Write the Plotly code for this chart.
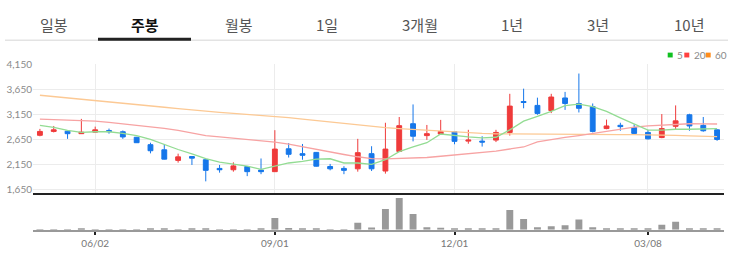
import plotly.graph_objects as go

# ---------------- data ----------------
weeks = list(range(50))
opens = [2733, 2810, 2815, 2765, 2796, 2829, 2804, 2694, 2546, 2444,
         2233, 2310, 2246, 2073, 2046, 2111, 2040, 2008, 2464, 2367,
         2392, 2111, 2073, 2065, 2367, 2021, 2412, 2964, 2727, 2758,
         2804, 2617, 2617, 2637, 2790, 3406, 3329, 3227, 3477, 3367,
         3304, 2867, 2932, 2887, 2790, 2688, 2912, 3142, 2931, 2842]
highs = [2861, 2919, 2829, 3060, 2906, 2867, 2829, 2700, 2585, 2560,
         2367, 2310, 2252, 2142, 2194, 2111, 2271, 2835, 2579, 2560,
         2400, 2162, 2117, 2662, 2515, 2983, 3098, 3348, 2939, 3040,
         2810, 2842, 2714, 2842, 3560, 3662, 3483, 3560, 3598, 3964,
         3367, 3046, 2983, 2950, 2842, 3156, 3329, 3162, 3098, 2850]
lows = [2713, 2790, 2662, 2765, 2790, 2765, 2662, 2580, 2373, 2252,
        2188, 2142, 1815, 1988, 2008, 1919, 1958, 2008, 2290, 2246,
        2110, 2034, 1958, 2008, 2021, 1969, 2412, 2612, 2642, 2746,
        2554, 2565, 2508, 2598, 2727, 3271, 3142, 3175, 3239, 3188,
        2790, 2854, 2823, 2739, 2650, 2675, 2842, 2823, 2804, 2623]
closes = [2810, 2842, 2765, 2796, 2842, 2804, 2700, 2585, 2425, 2258,
          2303, 2277, 2034, 2046, 2123, 2008, 2008, 2458, 2354, 2335,
          2117, 2065, 2034, 2387, 2065, 2458, 2925, 2714, 2765, 2810,
          2612, 2637, 2598, 2790, 3315, 3387, 3169, 3496, 3367, 3271,
          2810, 2919, 2906, 2771, 2662, 2867, 3021, 2919, 2823, 2650]
ma5 = [2931, 2893, 2829, 2790, 2804, 2804, 2771, 2727, 2650, 2546,
       2450, 2362, 2270, 2200, 2162, 2117, 2054, 2117, 2181, 2213,
       2258, 2265, 2181, 2181, 2155, 2246, 2406, 2502, 2585, 2758,
       2727, 2700, 2681, 2694, 2842, 3015, 3112, 3208, 3323, 3354,
       3304, 3208, 3079, 2950, 2835, 2835, 2854, 2854, 2867, 2867]
ma20 = [3054, 3045, 3035, 3025, 3015, 2990, 2960, 2935, 2906, 2870,
        2830, 2785, 2725, 2700, 2675, 2650, 2625, 2598, 2555, 2500,
        2450, 2400, 2350, 2305, 2270, 2265, 2270, 2280, 2290, 2315,
        2342, 2365, 2390, 2419, 2460, 2500, 2600, 2650, 2690, 2727,
        2770, 2820, 2867, 2895, 2919, 2935, 2950, 2963, 2960, 2958]
ma60 = [3531, 3506, 3481, 3456, 3431, 3403, 3375, 3347, 3320, 3292,
        3264, 3236, 3210, 3190, 3170, 3150, 3130, 3112, 3085, 3055,
        3025, 2995, 2965, 2935, 2905, 2885, 2867, 2850, 2830, 2810,
        2790, 2780, 2770, 2761, 2758, 2755, 2753, 2752, 2751, 2750,
        2750, 2749, 2748, 2747, 2746, 2740, 2730, 2722, 2715, 2708]
volumes = [0.3, 0.3, 0.3, 1.5, 0.3, 0.3, 0.3, 0.3, 1.0, 1.0,
           0.3, 1.0, 1.0, 0.3, 0.3, 0.3, 1.5, 12.4, 2.0, 1.0,
           1.0, 0.3, 0.3, 7.4, 2.5, 21.7, 33.0, 16.3, 2.7, 2.3,
           1.3, 1.7, 1.0, 1.7, 20.7, 11.3, 2.7, 3.7, 4.7, 10.7,
           2.7, 1.0, 1.3, 1.0, 1.0, 5.3, 8.3, 1.7, 1.7, 1.0]
tick_idx = [4, 17, 30, 44]
tick_labels = ["06/02", "09/01", "12/01", "03/08"]
price_ticks = [1650, 2150, 2650, 3150, 3650, 4150]
tabs = ["일봉", "주봉", "월봉", "1일", "3개월", "1년", "3년", "10년"]
ma_names = ["5", "20", "60"]

# ---------------- styling ----------------
W, H = 733, 255
RED = "#ef3b3b"
BLUE = "#1677ea"
MA_COLORS = ["#93dc93", "#f7a3a3", "#fcc994"]
LEG_COLORS = ["#10c020", "#ff4040", "#ff8c1a"]
tab_x = [54, 145, 239, 327, 420, 512, 598, 689]


def px(x):
    return x / W


def py(y):
    return 1 - y / H


fig = go.Figure()
for vals, col in zip([ma60, ma20, ma5], MA_COLORS[::-1]):
    fig.add_trace(go.Scatter(x=weeks, y=vals, mode="lines",
                             line=dict(color=col, width=1.3),
                             xaxis="x", yaxis="y", hoverinfo="skip"))
fig.add_trace(go.Candlestick(
    x=weeks, open=opens, high=highs, low=lows, close=closes,
    increasing=dict(line=dict(color=RED, width=1), fillcolor=RED),
    decreasing=dict(line=dict(color=BLUE, width=1), fillcolor=BLUE),
    whiskerwidth=0, xaxis="x", yaxis="y"))
fig.add_trace(go.Bar(x=weeks, y=volumes, marker=dict(color="#999999", line=dict(width=0)),
                     width=0.5, xaxis="x2", yaxis="y2"))

xdom = [px(33), px(724)]
fig.update_layout(
    width=W, height=H,
    margin=dict(l=0, r=0, t=0, b=0),
    paper_bgcolor="white", plot_bgcolor="white",
    showlegend=False,
    boxgap=0.5,
    font=dict(family="Lato, Noto Sans, sans-serif"),
    xaxis=dict(domain=xdom, range=[-0.5, 49.5], anchor="y",
               showgrid=True, gridcolor="#ececec", gridwidth=1,
               tickvals=tick_idx, showticklabels=False, ticks="",
               showline=True, linecolor="#222222", linewidth=1.5,
               zeroline=False, rangeslider=dict(visible=False)),
    yaxis=dict(domain=[py(193), py(59.3)], range=[1579, 4150],
               tickvals=price_ticks, ticktext=[f"{v:,}" for v in price_ticks],
               showgrid=True, gridcolor="#ececec", gridwidth=1,
               tickfont=dict(size=10, color="#8a8a8a"),
               zeroline=False, showline=False, ticks=""),
    xaxis2=dict(domain=xdom, range=[-0.5, 49.5], anchor="y2",
                showgrid=False, tickvals=tick_idx, ticktext=tick_labels,
                ticks="outside", ticklen=3, tickcolor="#222222", tickwidth=1.5,
                showline=True, linecolor="#999999", linewidth=2,
                tickfont=dict(size=10, color="#777777"), zeroline=False),
    yaxis2=dict(domain=[py(231), py(193)], range=[0, 38], visible=False),
)

# tabs
ann = []
for name, x in zip(tabs, tab_x):
    sel = name == "주봉"
    ann.append(dict(text=f"<b>{name}</b>" if sel else name, x=px(x), y=py(18),
                    xref="paper", yref="paper", showarrow=False,
                    xanchor="center", yanchor="middle",
                    font=dict(family="Noto Sans CJK KR", size=15,
                              color="#111111" if sel else "#555555")))
shapes = [
    dict(type="line", xref="paper", yref="paper", x0=px(5), x1=px(728),
         y0=py(34.5), y1=py(34.5), line=dict(color="#e3e3e3", width=1.5)),
    dict(type="rect", xref="paper", yref="paper", x0=px(98), x1=px(191),
         y0=py(35), y1=py(32), fillcolor="#222222", line=dict(width=0)),
]
# MA legend
leg_sq = [667.7, 684.3, 705.7]
leg_tx = [675, 691.7, 712.7]
for name, col, sx, tx in zip(ma_names, LEG_COLORS, leg_sq, leg_tx):
    shapes.append(dict(type="rect", xref="paper", yref="paper",
                       x0=px(sx), x1=px(sx + 5), y0=py(52.3), y1=py(47.3),
                       fillcolor=col, line=dict(width=0)))
    ann.append(dict(text=name, x=px(tx), y=py(50), xref="paper", yref="paper",
                    showarrow=False, xanchor="left", yanchor="middle",
                    font=dict(size=10, color="#8a8a8a")))
fig.update_layout(annotations=ann, shapes=shapes)

fig.write_html("out.html")
